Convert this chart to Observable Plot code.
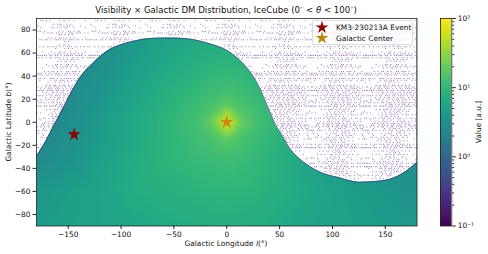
<!DOCTYPE html>
<html><head><meta charset="utf-8">
<script src="https://cdn.jsdelivr.net/npm/d3@7"></script>
<script src="https://cdn.jsdelivr.net/npm/@observablehq/plot@0.6"></script>
<style>
html,body{margin:0;padding:0;background:#fff}
#wrap{position:relative;width:488px;height:254px;overflow:hidden;font-family:"DejaVu Sans",sans-serif;color:#111}
#wrap svg{position:absolute;background:transparent}
.t{position:absolute;white-space:nowrap;line-height:1}
</style></head><body><div id="wrap"></div>
<script>
const gridLons=[-180,-150,-120,-90,-60,-30,-15,-5,0,5,15,30,60,90,120,150,180];
const gridLats=[90,60,30,15,5,0,-5,-15,-30,-60,-90];
const gridValues=[
[3.6,3.6,3.8,4.2,4.8,5.4,5.7,5.8,5.8,5.8,5.7,5.4,4.8,4.2,3.8,3.6,3.6],
[2.2,2.4,3,4.2,5.6,7,7.6,7.9,8,7.9,7.6,6.8,5.4,4,3,2.4,2],
[2.2,2.6,3.5,5.2,7.2,9.7,11,11.6,12,11.6,11,9.6,6.8,4.6,3.2,2.4,2],
[2.2,2.7,3.8,5.7,7.9,11,13.5,16,18,16,13.5,10.8,7.4,5,3.4,2.5,2],
[2.3,2.9,4.2,6.1,8.4,12,17,32,46,32,17,11.8,7.8,5.4,3.6,2.6,2],
[2.3,3,4.3,6.2,8.6,12.2,19,44,72,44,19,12,7.8,5.5,3.7,2.6,2],
[2.3,3,4.3,6.2,8.5,12,17,32,46,32,17,11.8,7.8,5.4,3.6,2.6,2.1],
[2.4,3.1,4.4,6.3,8.5,11.4,13.5,16,18,16,13.5,10.8,7.6,5.2,3.7,2.8,2.2],
[2.6,3.4,4.8,6.6,8.9,10.6,11,11.6,12,11.6,11,9.6,7,5,3.8,3,2.7],
[3.9,4.6,5.5,6.8,7.8,8.5,8.8,9,9,9,8.8,8.4,7,5.6,4.6,4,3.5],
[4.5,4.8,5.3,5.9,6.4,7,7.4,7.5,7.5,7.5,7.4,7,6,5.2,4.8,4.4,4.2]];
const edgeLons=[-180,-171,-163,-156,-148,-139,-126,-113,-97.6,-85,-63,-50,-28,-16,0,9.7,19,27.6,41.8,47.5,49.7,59,75,89,105,125,149,168,180];
const edgeLats=[-29.6,-16,-2,10,24.3,38.7,51.7,61.8,68,71,73,73,71,68,62.4,56,47.4,36,7,-4.5,-7.4,-21.8,-36,-43.5,-47.8,-52,-50.5,-43.5,-35];
const speckLats=[88,85,82,79,76,73,70,67,64,61,58,56,53,50,47,44,41,38,35,32,29,26,23,20,17,14,11,8,5,2,-1,-4,-7,-10,-13,-16,-19,-22,-25,-28,-31,-34,-37,-40,-43,-46,-49,-52];
const speckRows=[
"..##.#.#....#.##.#..#.....#...",
".........#.###..#.#..........#",
"..#.....##.#.#.##...#.....#...",
"###.#.......#.#..##.#.##......",
"............##.#.#.#..........",
"......#.#.#.###.#.#.#.....#...",
"...............#.#............",
"............#.##.#............",
"..........#....#.#.#..........",
"...#....#...##.#..#..#....#...",
"######.##.##.#.#####.####.#.##",
"##.#.#.##.###.#.#..##.#.##.###",
"...........#.#.##.#.#.........",
".....#....##.#..##.#.#........",
"...#.....#.#.##.#.#...#..#....",
"....#.#.##.#.#..##.###.#...#..",
"####.##.#.####.##.#.###.##.#.#",
".##.#..###.#.#.####.#.##.#.###",
"......#...#.##.#.#...........#",
".....#.#.##.#.##.#.#.#.#......",
"..#.#.###.###.#.#.##.####.#...",
"...#.#..##.#.##..##.#.###.#...",
"####.#.##.###.##.####.#.##.##.",
"..#..###.#.##.#.##.###.#.##...",
".##.#.#.##.###.#.#.###.##.#.#.",
"###.##.####.###.##.#.####.####",
".....#.#.###.#.#.##.#..#......",
"#.#.....#.#.##.##.#..#.....##.",
"........#.##.#.#.#............",
"..#......#.#.#...##.#.....#...",
"...##.#.##.#.###.#.#.#.#......",
"#.#.#.#.##.#.##.#.##.#..#.#.#.",
"##.###.#.##.###.#.###.##.#.###",
".#.#....#.#.##..#.#.#..#...#..",
"..##.#..##.#.#.###.##.#.....#.",
"......#.#.##.#..#.#.#.#.......",
"#.#.##.###.##.#.#.###.##.#.#.#",
"###.##.#.###.#.##.##.####.####",
"....#.#.##.#.###.#.#.#.#......",
"...#.#.#..##.#.#.##.#.#..#....",
"##.#....#.#.##.#...#.#.....#.#",
"....#..#.##.#.#.##.#..........",
".........#.#..#.#.#...........",
".#.....##.#.##.#.#..#.........",
"...#.#.##.#..#.###.#.#.#......",
"##.#.##.#..###.#.##.##.#.##.#.",
"...#.#.#.###.#.#.#.###.#.#....",
"..###.##.#.###.##.#.##.#..##.."];

const grid=gridLats.flatMap((lat,r)=>gridLons.map((lon,c)=>({lon,lat,v:gridValues[r][c]})));
const edge=edgeLons.map((lon,i)=>({lon,lat:edgeLats[i]}));
const edgeAt=d3.scaleLinear().domain(edgeLons).range(edgeLats);
const specks=[];
function addRow(row,lat,shift,step){for(let t=0;t<7;t++)[...row].forEach((ch,c)=>{
  if(ch!=="#")return;
  const lon=-180+t*52+c*step+shift;
  if(lon<180&&lat>edgeAt(lon)+1.5)specks.push({lon,lat});
});}
speckRows.forEach((row,r)=>{
  addRow(row,speckLats[r],0.6,1.75);
  if(r%2===1||r>18)addRow([...speckRows[(r+17)%speckRows.length]].reverse().join(""),speckLats[r]-1.5,1.4,1.75);
});

const wrap=document.getElementById("wrap");
const main=Plot.plot({
  width:488,height:254,marginLeft:36,marginRight:71.5,marginTop:18,marginBottom:28.5,
  style:{background:"transparent",fontFamily:"DejaVu Sans",fontSize:"7.4px",color:"#111"},
  x:{domain:[-180,180],ticks:[-150,-100,-50,0,50,100,150],tickSize:3.5,label:null},
  y:{domain:[-90,90],ticks:[-80,-60,-40,-20,0,20,40,60,80],tickSize:3.5,label:null},
  color:{type:"linear",domain:[-1,2],scheme:"viridis"},
  marks:[
    Plot.raster(grid,{x:"lon",y:"lat",fill:d=>Math.log10(d.v),x1:-180,x2:180,y1:-90,y2:90,interpolate:"barycentric"}),
    Plot.areaY(edge,{x:"lon",y1:"lat",y2:()=>90,fill:"white",curve:"monotone-x"}),
    Plot.dot(specks,{x:"lon",y:"lat",r:0.58,symbol:"square",fill:"#5b2a86",fillOpacity:0.6}),
    Plot.line(edge,{x:"lon",y:"lat",stroke:"#3b3a85",strokeWidth:0.9,strokeOpacity:0.8,curve:"monotone-x"}),
    Plot.dot([{lon:-144.4,lat:-10.6}],{x:"lon",y:"lat",symbol:"star",r:4.2,fill:"#8b0000",fillOpacity:0.95}),
    Plot.dot([{lon:0,lat:0}],{x:"lon",y:"lat",symbol:"star",r:4.2,fill:"#c8860f",fillOpacity:0.95}),
    Plot.axisX({ticks:[-150,-100,-50,0,50,100,150],tickSize:3.5,tickPadding:2.5,stroke:"#222"}),
    Plot.axisY({ticks:[-80,-60,-40,-20,0,20,40,60,80],tickSize:3.5,tickPadding:2.5,stroke:"#222"}),
    Plot.frame({stroke:"#222",strokeWidth:0.8})
  ]});
main.style.left="0";main.style.top="0";
wrap.appendChild(main);

const barEdges=d3.range(0,241).map(i=>Math.pow(10,-1+3*i/240));
const barCells=barEdges.slice(0,-1).map((v,i)=>({a:v,b:barEdges[i+1]}));
const majorTicks=[0.1,1,10,100];
const majorLabels={0.1:"10⁻¹",1:"10⁰",10:"10¹",100:"10²"};
const minorTicks=[0.2,0.3,0.4,0.5,0.6,0.7,0.8,0.9,2,3,4,5,6,7,8,9,20,30,40,50,60,70,80,90];
const bar=Plot.plot({
  width:60,height:254,marginLeft:4,marginRight:44.7,marginTop:18,marginBottom:28.5,
  style:{background:"transparent",fontFamily:"DejaVu Sans",fontSize:"7.4px",color:"#111"},
  x:{domain:[0,1],axis:null},
  y:{type:"log",domain:[0.1,100],axis:null},
  color:{type:"log",domain:[0.1,100],scheme:"viridis"},
  marks:[
    Plot.rect(barCells,{x1:()=>0,x2:()=>1,y1:"a",y2:"b",fill:d=>Math.sqrt(d.a*d.b),shapeRendering:"crispEdges"}),
    Plot.axisY({anchor:"right",ticks:minorTicks,tickSize:1.8,tickFormat:()=>"",stroke:"#222",label:null}),
    Plot.axisY({anchor:"right",ticks:majorTicks,tickSize:3.5,tickPadding:2.5,tickFormat:d=>majorLabels[d],stroke:"#222",fill:"#111",label:null}),
    Plot.frame({stroke:"#222",strokeWidth:0.8})
  ]});
bar.style.left="436px";bar.style.top="0";
wrap.appendChild(bar);

function label(html,css){const d=document.createElement("div");d.className="t";d.innerHTML=html;d.style.cssText=css;wrap.appendChild(d);return d;}
label("Visibility × Galactic DM Distribution, IceCube (0<sup style='font-size:5px;line-height:0'>∘</sup> &lt; <i>θ</i> &lt; 100<sup style='font-size:5px;line-height:0'>∘</sup>)","left:226px;top:5.5px;transform:translateX(-50%);font-size:8.6px;");
label("Galactic Longitude <i>l</i>(°)","left:226px;top:240px;transform:translateX(-50%);font-size:7.4px;");
label("Galactic Latitude <i>b</i>(°)","left:8.5px;top:121.5px;transform:translate(-50%,-50%) rotate(-90deg);font-size:7.4px;");
label("Value [a.u.]","left:479px;top:121.5px;transform:translate(-50%,-50%) rotate(-90deg);font-size:7.4px;");
const lg=document.createElement("div");
lg.style.cssText="position:absolute;left:312px;top:19.5px;width:101px;height:25.5px;background:rgba(255,255,255,.8);border:1px solid #ddd;border-radius:2px;box-sizing:border-box;";
wrap.appendChild(lg);
const starKey=d3.create("svg").attr("width",488).attr("height",254).style("left","0").style("top","0");
[["#8b0000",27.5],["#b8860b",38]].forEach(([c,y])=>starKey.append("path").attr("d",d3.symbol(d3.symbolStar,50)()).attr("fill",c).attr("transform",`translate(322,${y})`));
wrap.appendChild(starKey.node());
label("KM3-230213A Event","left:336px;top:24px;font-size:7.4px;");
label("Galactic Center","left:336px;top:34.5px;font-size:7.4px;");
</script></body></html>
